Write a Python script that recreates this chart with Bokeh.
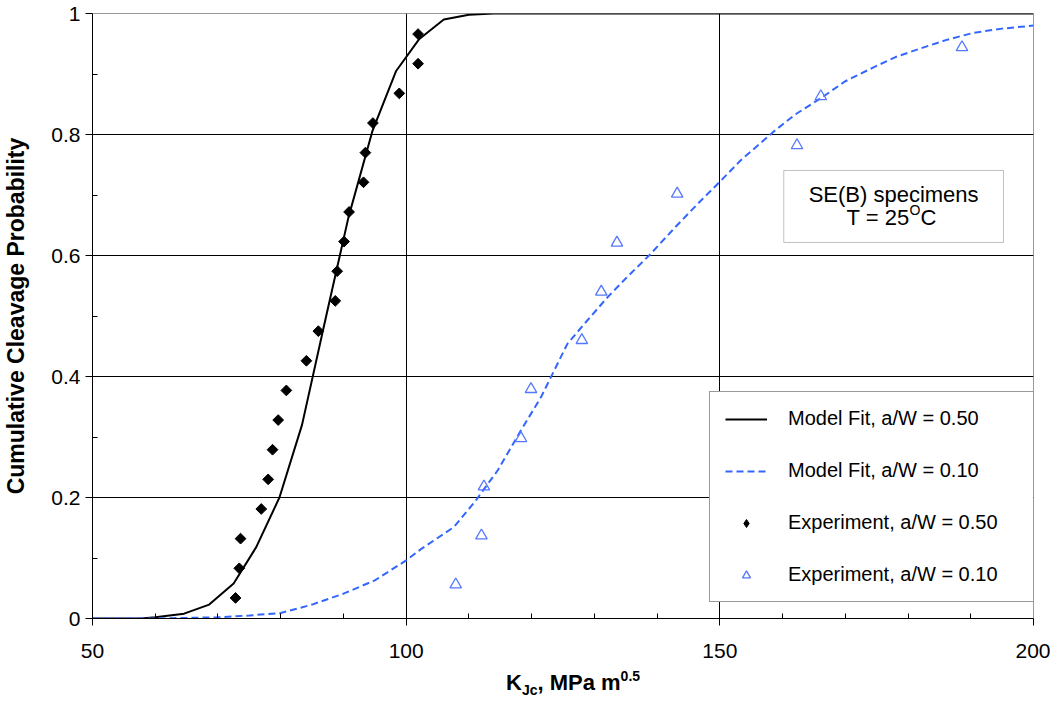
import math
from bokeh.plotting import figure
from bokeh.layouts import column
from bokeh.models import (Range1d, FixedTicker, Legend, LegendItem,
                          BoxAnnotation, Label, Div)
from bokeh.embed import file_html
from bokeh.resources import INLINE

# ---------------- data ----------------
# Model fit, a/W = 0.50
fit50_k = [50, 57.8, 60.0, 64.6, 68.6, 72.5, 76.1, 79.8, 83.4, 87.1, 90.8,
           94.6, 98.4, 102.1, 106.0, 110.0, 114.0, 200]
fit50_p = [0.0, 0.0, 0.002, 0.008, 0.023, 0.058, 0.118, 0.200, 0.320, 0.493,
           0.663, 0.805, 0.905, 0.958, 0.990, 0.998, 1.0, 1.0]

# Model fit, a/W = 0.10
fit10_k = [50, 60, 70, 75, 80, 85, 90, 95, 100, 102.4, 107.6, 111.1, 114.6,
           118.3, 121.5, 123.6, 125.7, 128.9, 132.1, 135, 139, 143, 147,
           150.2, 153.3, 158.6, 162, 166.1, 170, 174.5, 178, 182.5, 186,
           190.4, 195, 200]
fit10_p = [0.0, 0.0, 0.002, 0.005, 0.009, 0.023, 0.041, 0.063, 0.096, 0.115,
           0.151, 0.195, 0.245, 0.311, 0.366, 0.410, 0.454, 0.493, 0.531,
           0.562, 0.603, 0.648, 0.691, 0.724, 0.757, 0.805, 0.833, 0.860,
           0.888, 0.911, 0.928, 0.944, 0.956, 0.968, 0.975, 0.980]

# Experiment, a/W = 0.50
exp50_k = [72.8, 73.4, 73.6, 76.9, 78.0, 78.7, 79.6, 80.9, 84.1, 86.0, 88.7,
           89.0, 90.1, 90.9, 93.2, 93.5, 94.7, 98.9, 101.9, 101.9]
exp50_p = [0.034, 0.083, 0.132, 0.181, 0.230, 0.279, 0.328, 0.377, 0.426,
           0.475, 0.525, 0.574, 0.623, 0.672, 0.721, 0.770, 0.819, 0.868,
           0.917, 0.966]

# Experiment, a/W = 0.10
exp10_k = [107.9, 112.0, 112.4, 118.3, 119.9, 128.0, 131.1, 133.6, 143.2,
           162.3, 166.1, 188.6]
exp10_p = [0.056, 0.137, 0.218, 0.298, 0.379, 0.460, 0.540, 0.621, 0.702,
           0.782, 0.863, 0.944]

x_major = [50, 100, 150, 200]
x_minor = [60, 70, 80, 90, 110, 120, 130, 140, 160, 170, 180, 190]
y_major = [0, 0.2, 0.4, 0.6, 0.8, 1.0]
y_minor = [0.1, 0.3, 0.5, 0.7, 0.9]
y_labels = {0: "0", 0.2: "0.2", 0.4: "0.4", 0.6: "0.6", 0.8: "0.8", 1.0: "1"}

legend_labels = ["Model Fit, a/W = 0.50", "Model Fit, a/W = 0.10",
                 "Experiment, a/W = 0.50", "Experiment, a/W = 0.10"]

FONT = "Liberation Sans"
BLUE = "#3366FF"
TRI = "#5577FF"

# ---------------- figure ----------------
p = figure(width=1050, height=668, x_range=Range1d(50, 200),
           y_range=Range1d(0, 1), output_backend="svg", toolbar_location=None,
           min_border_left=91, min_border_right=17, min_border_top=13,
           min_border_bottom=50)
p.background_fill_color = "white"
p.border_fill_color = "white"
p.outline_line_color = "#9a9a9a"
p.outline_line_width = 1

# axes
p.xaxis.ticker = FixedTicker(ticks=x_major, minor_ticks=x_minor)
p.yaxis.ticker = FixedTicker(ticks=y_major, minor_ticks=y_minor)
p.yaxis.major_label_overrides = y_labels
for ax in (p.xaxis[0], p.yaxis[0]):
    ax.axis_line_color = "black"
    ax.axis_line_width = 1
    ax.major_tick_line_color = "black"
    ax.minor_tick_line_color = "black"
    ax.major_tick_out = 7
    ax.major_tick_in = 0
    ax.minor_tick_in = 5
    ax.minor_tick_out = 0
    ax.major_label_text_font = FONT
    ax.major_label_text_font_size = "21px"
    ax.major_label_text_color = "black"
p.xaxis.major_label_standoff = 18
p.yaxis.major_label_standoff = 5
p.xaxis.axis_label = None
p.yaxis.axis_label = "Cumulative Cleavage Probability"
p.yaxis.axis_label_text_font = FONT
p.yaxis.axis_label_text_font_size = "23px"
p.yaxis.axis_label_text_font_style = "bold"
p.yaxis.axis_label_text_color = "black"
p.yaxis.axis_label_standoff = 19

# grid
p.xgrid.ticker = FixedTicker(ticks=[100, 150])
p.ygrid.ticker = FixedTicker(ticks=[0.2, 0.4, 0.6, 0.8])
p.xgrid.grid_line_color = "black"
p.ygrid.grid_line_color = "black"
p.xgrid.grid_line_width = 1
p.ygrid.grid_line_width = 1

# glyphs
r_fit50 = p.line(fit50_k, fit50_p, line_color="black", line_width=2)
r_fit10 = p.line(fit10_k, fit10_p, line_color=BLUE, line_width=2,
                 line_dash="7 4")
# diamond (drawn small, hidden under the rotated squares) gives the legend
# its diamond symbol; the rotated squares are the visible experiment points
r_exp50_key = p.scatter(exp50_k, exp50_p, marker="diamond", size=6,
                        fill_color="black", line_color="black")
r_exp50 = p.scatter(exp50_k, exp50_p, marker="square", size=7.6,
                    angle=math.pi / 4, fill_color="black", line_color="black")
r_exp10 = p.scatter(exp10_k, exp10_p, marker="triangle", size=11.5,
                    fill_color=None, line_color=TRI, line_width=1.3)

# legend
legend = Legend(items=[LegendItem(label=legend_labels[0], renderers=[r_fit50]),
                       LegendItem(label=legend_labels[1], renderers=[r_fit10]),
                       LegendItem(label=legend_labels[2], renderers=[r_exp50_key]),
                       LegendItem(label=legend_labels[3], renderers=[r_exp10])],
                location=(617, 16))
legend.label_text_font = FONT
legend.label_text_font_size = "20px"
legend.label_text_color = "black"
legend.label_height = 20
legend.label_width = 231
legend.glyph_height = 20
legend.glyph_width = 42
legend.spacing = 29
legend.padding = 15
legend.margin = 0
legend.label_standoff = 21
legend.border_line_color = "#333333"
legend.border_line_width = 1
legend.background_fill_color = "white"
legend.background_fill_alpha = 1
p.add_layout(legend)

# annotation box
box = BoxAnnotation(left=160.19, right=195.22, bottom=0.6215, top=0.7405,
                    fill_color="white", fill_alpha=1,
                    line_color="#333333", line_width=1)
p.add_layout(box)

def lab(x, y, text, size, xo=0, yo=0, align="left", style="normal"):
    p.add_layout(Label(x=x, y=y, text=text, text_font=FONT,
                       text_font_size=size, text_font_style=style,
                       text_color="black", text_align=align,
                       text_baseline="alphabetic", x_offset=xo, y_offset=yo))

lab(177.7, 0.7008, "SE(B) specimens", "22px", align="center")
lab(180.25, 0.6628, "T = 25", "22px", align="right")
lab(180.25, 0.6628, "O", "14px", xo=0, yo=8)
lab(180.25, 0.6628, "C", "22px", xo=11)

# x-axis title: K_Jc, MPa m^0.5 (real HTML text below the plot)
xtitle = Div(
    text=('<div style="padding-left:506px;font-family:\'Liberation Sans\';'
          'font-weight:bold;font-size:22px;line-height:30px;color:black;'
          'white-space:nowrap;">K<span style="font-size:14px;position:relative;'
          'top:5px;">Jc</span>, MPa m<span style="font-size:14px;'
          'position:relative;top:-9px;">0.5</span></div>'),
    width=1050, height=30, margin=(0, 0, 0, 0))

layout = column(p, xtitle, spacing=0)
open("out.html", "w").write(file_html(layout, INLINE))
